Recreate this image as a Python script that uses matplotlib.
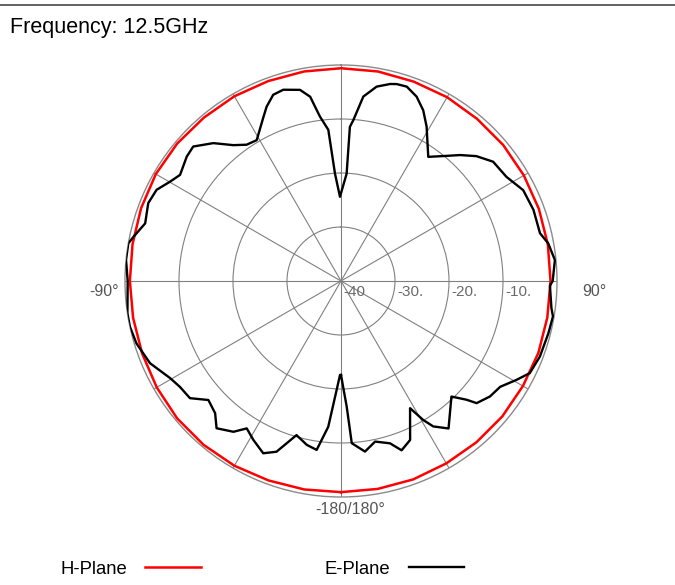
import numpy as np
import matplotlib.pyplot as plt
from matplotlib.lines import Line2D

plt.rcParams['font.family'] = ['Liberation Sans', 'DejaVu Sans']

# H-plane pattern (deg, dB)
h_angles = list(range(-180, 181, 10))
h_values = [-0.9, -0.8, -0.7, -0.5, -0.4, -0.4, -0.6, -0.8, -0.9, -0.9,
            -0.8, -0.6, -0.4, -0.4, -0.5, -0.5, -0.6, -0.6, -0.6, -0.6,
            -0.7, -0.7, -0.8, -0.8, -0.9, -1.0, -1.1, -1.2, -1.2, -1.1,
            -1.1, -1.0, -1.0, -1.0, -0.9, -0.9, -0.9]

# E-plane pattern (deg, dB)
e_angles = [-180, -179.4, -177.7, -175, -171.8, -168.2, -163.9, -159.3, -155.7, -151.1,
            -147.4, -144.5, -139.8, -136.4, -131.9, -127.8, -123.3, -119.6, -113.3,
            -107, -102.2, -98.6, -90, -84.4, -80, -78, -73.6, -68, -63.7, -59.8,
            -56.6, -51.1, -47.7, -42.8, -38.4, -34.7, -30.9, -25.3, -23.1, -20,
            -16.8, -12.1, -9.5, -7.3, -4.8, -3.2, -0.7, 3, 3.3, 4.4, 6.9, 10.4, 14,
            15.8, 18.7, 22.3, 25.7, 29, 35.1, 39.3, 43.4, 47.3, 51.9, 57.8, 63.5,
            69.7, 76.5, 79.7, 84.4, 90, 91.3, 97.4, 99.5, 104.2, 110.8, 116, 119.4,
            123.6, 127.8, 132, 133.4, 136.3, 143.9, 147.6, 149.4, 151.5, 156.5,
            160.3, 163.2, 168, 172, 176.2, 177.4, 180]
e_values = [-22.6, -22.6, -19.8, -12.9, -8.4, -9.0, -10.3, -6.2, -5.0, -6.4,
            -7.6, -5.7, -4.3, -6.2, -7.0, -4.6, -4.3, -3.6, -1.5,
            -0.4, 0.0, 0.0, -0.5, 0.0, 0.0, -0.7, -2.2, -1.5, -1.9, -3.4,
            -4.3, -3.3, -3.0, -5.2, -7.9, -9.3, -9.6, -6.4, -4.9, -3.3,
            -3.0, -3.8, -5.4, -9.3, -11.9, -20.1, -24.4, -20.1, -11.4, -10.1, -5.6, -3.4, -2.4,
            -2.1, -2.0, -3.1, -4.9, -7.3, -11.9, -10.1, -7.9, -5.9, -4.2, -3.8, -2.3,
            -2.0, -2.1, -1.0, -0.2, -0.8, -1.3, -0.7, -0.2, -0.4, -0.6, -1.1, -2.7,
            -4.6, -5.1, -6.2, -8.0, -10.4, -6.2, -8.1, -10.1, -13.2, -7.9,
            -6.7, -8.6, -9.6, -8.1, -9.9, -16.7, -22.6]

r_ticks = [-30, -20, -10]
r_labels = ['-40', '-30.', '-20.', '-10.']

W, H = 675, 585
fig = plt.figure(figsize=(W / 100, H / 100), dpi=100)
ax = fig.add_axes([125 / W, 1 - 497 / H, 432 / W, 432 / H], projection='polar')

ax.set_theta_zero_location('N')
ax.set_theta_direction(-1)
ax.set_rlim(-40, 0)
ax.set_rticks(r_ticks)
ax.set_yticklabels([])
ax.set_thetagrids(range(0, 360, 30), labels=[''] * 12)
ax.grid(color='#808080', lw=0.8)
ax.spines['polar'].set_color('#8a8a8a')
ax.spines['polar'].set_linewidth(1.0)

ax.plot(np.deg2rad(h_angles), h_values, color='#ff0000', lw=1.8, label='H-Plane', zorder=3)
ax.plot(np.deg2rad(e_angles), e_values, color='black', lw=1.7, label='E-Plane', zorder=4)

# radial labels along the 90 deg spoke
for v, lab in zip([-40] + r_ticks, r_labels):
    ax.annotate(lab, xy=(np.pi / 2, v), xytext=(2, -3), textcoords='offset points',
                ha='left', va='top', fontsize=11, color='#6a6a6a')

# angle labels
fig.text(119 / W, 1 - 291 / H, '-90°', ha='right', va='center', fontsize=11.5, color='#555555')
fig.text(582 / W, 1 - 291 / H, '90°', ha='left', va='center', fontsize=11.5, color='#555555')
fig.text(350 / W, 1 - 509 / H, '-180/180°', ha='center', va='center', fontsize=11.5, color='#555555')

fig.text(10 / W, 1 - 27 / H, 'Frequency: 12.5GHz', ha='left', va='center', fontsize=15.5)
fig.add_artist(Line2D([0, 1], [1 - 5 / H, 1 - 5 / H], transform=fig.transFigure,
                      color='#555555', lw=1.3))

handles, labels = ax.get_legend_handles_labels()
fig.legend(handles, labels, loc='center left', bbox_to_anchor=(60 / W, 1 - 569 / H),
           ncol=2, frameon=False, markerfirst=False, fontsize=13.3,
           handlelength=3.0, handletextpad=1.0, columnspacing=6.7, borderpad=0,
           borderaxespad=0)

fig.savefig('out.png', dpi=100)
